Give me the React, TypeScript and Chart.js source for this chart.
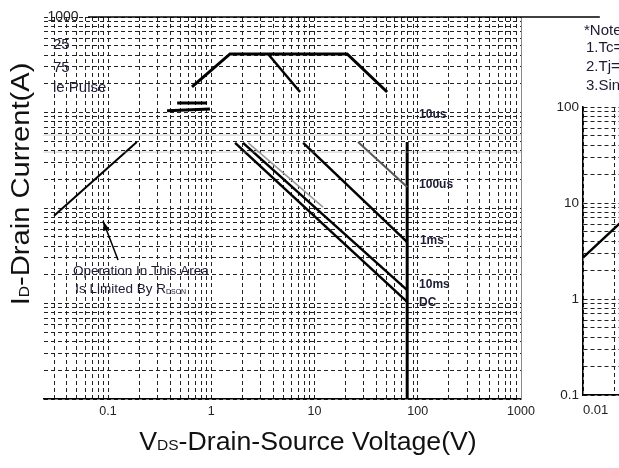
import React, { useEffect, useRef } from 'react';
import { Chart, registerables } from 'chart.js';
Chart.register(...registerables);

const FONT = "'Liberation Sans', Arial, Helvetica, sans-serif";
const INK = '#1b1b33';

// ---------- main chart axes ----------
const xRange = [0.0237, 1000];
const yRange = [0.1, 1000];
const xTickLabels = ['0.1', '1', '10', '100', '1000'];
const yTickLabels = ['1000'];

// ---------- main chart series (VDS in V, ID in A) ----------
const rdsVds = [0.03, 0.19];
const rdsId = [8.3, 49];
const dcVds = [1.7, 79];
const dcId = [48, 1.04];
const ms10Vds = [2.03, 79];
const ms10Id = [48, 1.38];
const ms1Vds = [7.76, 79];
const ms1Id = [48, 4.4];
const us100Vds = [26.4, 79];
const us100Id = [49, 16.6];
const greyVds = [2.28, 12.1];
const greyId = [48, 10.2];
const vmaxVds = [79, 79];
const vmaxId = [49, 0.1];
const ghostVds = [0.65, 1.52, 20.7, 50.5];
const ghostId = [185, 410, 410, 164];
const ghost2Vds = [3.55, 7.24];
const ghost2Id = [410, 164];
const barAVds = [0.467, 0.91];
const barAId = [126, 126];
const barBVds = [0.373, 0.97];
const barBId = [104, 109];
const bandVds = [0.0237, 1000];
const bandHiId = [58, 58];
const bandLoId = [38.5, 38.5];
const frameVds = [0.064, 5800];
const frameId = [1000, 1000];

// ---------- main chart annotations ----------
const lineLabels = ['10us', '100us', '1ms', '10ms', 'DC'];
const lineLabelVds = [103, 103, 105, 103, 103];
const lineLabelId = [94, 17.4, 4.6, 1.56, 1.01];
const opLine1 = 'Operation In This Area';
const opLine2 = 'Is Limited By R';
const opSub = 'DSON';
const opVds = [0.0458, 0.048];
const opId = [2.19, 1.42];
const arrowVds = [0.125, 0.0895];
const arrowId = [2.85, 7.3];
const noteRight = ['*Note', '1.Tc=', '2.Tj=', '3.Sin'];
const noteLeft = ['25', '75', 'le Pulse'];

// ---------- mini (shifted copy) chart ----------
const miniXRange = [0.01, 1000];
const miniYRange = [0.1, 100];
const miniXTickLabels = ['0.01'];
const miniYTickLabels = ['0.1', '1', '10', '100'];
const miniRdsVds = [0.01, 0.1];
const miniRdsId = [2.7, 27];

function logTicks(min: number, max: number) {
  const out: any[] = [];
  for (let e = Math.floor(Math.log10(min)); e <= Math.ceil(Math.log10(max)); e++) {
    for (let m = 1; m <= 9; m++) {
      const v = +(m * Math.pow(10, e)).toPrecision(6);
      if (v >= min * 0.9999 && v <= max * 1.0001) out.push({ value: v });
    }
  }
  return out;
}

const labelFor = (labels: string[]) => (v: any) => {
  const n = Number(v);
  const m = labels.find((l) => Math.abs(Math.log10(Number(l)) - Math.log10(n)) < 1e-6);
  return m ?? '';
};

const seg = (xs: number[], ys: number[], color: string, width: number, extra: any = {}) => ({
  data: xs.map((x, i) => ({ x, y: ys[i] })),
  borderColor: color,
  backgroundColor: color,
  borderWidth: width,
  pointRadius: 0,
  fill: false,
  tension: 0,
  ...extra,
});

function drawParts(ctx: any, parts: any[], tx: number, ty: number, rotate: boolean, stretch: number) {
  ctx.save();
  ctx.translate(tx, ty);
  if (rotate) ctx.rotate(-Math.PI / 2);
  ctx.scale(stretch, 1);
  ctx.textBaseline = 'alphabetic';
  ctx.textAlign = 'left';
  let total = 0;
  for (const p of parts) {
    ctx.font = `${p.size}px ${FONT}`;
    total += ctx.measureText(p.t).width;
  }
  let x = -total / 2;
  for (const p of parts) {
    ctx.font = `${p.size}px ${FONT}`;
    ctx.fillText(p.t, x, 0);
    x += ctx.measureText(p.t).width;
  }
  ctx.restore();
}

const annotPlugin = {
  id: 'annot',
  afterDraw(chart: any) {
    const { ctx } = chart;
    const xs = chart.scales.x;
    const ys = chart.scales.y;
    const px = (v: number) => xs.getPixelForValue(v);
    const py = (v: number) => ys.getPixelForValue(v);
    ctx.save();
    ctx.fillStyle = INK;
    ctx.textAlign = 'left';
    ctx.textBaseline = 'middle';
    ctx.font = `bold 12px ${FONT}`;
    lineLabels.forEach((t, i) => ctx.fillText(t, px(lineLabelVds[i]), py(lineLabelId[i])));

    ctx.font = `13.5px ${FONT}`;
    ctx.fillText(opLine1, px(opVds[0]), py(opId[0]));
    let x = px(opVds[1]);
    const y = py(opId[1]);
    ctx.fillText(opLine2, x, y);
    x += ctx.measureText(opLine2).width;
    ctx.textBaseline = 'alphabetic';
    ctx.font = `7px ${FONT}`;
    ctx.fillText(opSub, x, y + 5);

    // arrow
    const ax0 = px(arrowVds[0]), ay0 = py(arrowId[0]);
    const ax1 = px(arrowVds[1]), ay1 = py(arrowId[1]);
    ctx.strokeStyle = '#000';
    ctx.lineWidth = 1.5;
    ctx.beginPath();
    ctx.moveTo(ax0, ay0);
    ctx.lineTo(ax1, ay1);
    ctx.stroke();
    const ang = Math.atan2(ay1 - ay0, ax1 - ax0);
    ctx.fillStyle = '#000';
    ctx.beginPath();
    ctx.moveTo(ax1, ay1);
    ctx.lineTo(ax1 - 10 * Math.cos(ang - 0.3), ay1 - 10 * Math.sin(ang - 0.3));
    ctx.lineTo(ax1 - 10 * Math.cos(ang + 0.3), ay1 - 10 * Math.sin(ang + 0.3));
    ctx.closePath();
    ctx.fill();

    // notes (fragments)
    ctx.fillStyle = INK;
    ctx.font = `15px ${FONT}`;
    ctx.textBaseline = 'middle';
    const rightY = [31, 48, 67, 86];
    noteRight.forEach((t, i) => ctx.fillText(t, i === 0 ? 584 : 586, rightY[i]));
    const leftY = [45, 68, 88];
    noteLeft.forEach((t, i) => ctx.fillText(t, 53, leftY[i]));

    // axis titles
    ctx.fillStyle = '#111';
    drawParts(ctx, [{ t: 'I', size: 26 }, { t: 'D', size: 14 }, { t: '-Drain Current(A)', size: 26 }], 29, 184, true, 1.12);
    drawParts(ctx, [{ t: 'V', size: 26.7 }, { t: 'DS', size: 15.5 }, { t: '-Drain-Source Voltage(V)', size: 26.7 }], 308, 450, false, 1);
    ctx.restore();
  },
};

function mainConfig(): any {
  return {
    type: 'line',
    data: {
      datasets: [
        seg(bandVds, bandHiId, '#999', 1, { borderDash: [1, 1] }),
        seg(bandVds, bandLoId, '#999', 1, { borderDash: [1, 1] }),
        seg(frameVds, frameId, '#000', 1.5, { clip: false }),
        seg(rdsVds, rdsId, '#000', 2),
        seg(ghostVds, ghostId, '#000', 3),
        seg(ghost2Vds, ghost2Id, '#000', 2.5),
        seg(barAVds, barAId, '#000', 3),
        seg(barBVds, barBId, '#000', 3),
        seg(greyVds, greyId, '#999', 1.5),
        seg(dcVds, dcId, '#000', 2.5),
        seg(ms10Vds, ms10Id, '#000', 2.5),
        seg(ms1Vds, ms1Id, '#000', 2.5),
        seg(us100Vds, us100Id, '#555', 2),
        seg(vmaxVds, vmaxId, '#000', 3),
      ],
    },
    options: {
      animation: false,
      responsive: false,
      devicePixelRatio: 1,
      layout: { padding: { left: 43.5, right: 98, top: 17, bottom: 0 } },
      plugins: { legend: { display: false }, tooltip: { enabled: false } },
      scales: {
        x: {
          type: 'logarithmic',
          min: xRange[0],
          max: xRange[1],
          afterBuildTicks: (s: any) => { s.ticks = logTicks(xRange[0], xRange[1]); },
          afterFit: (s: any) => { s.height = 69; },
          grid: { color: '#222', lineWidth: 1, drawTicks: false },
          border: { display: true, color: '#000', width: 1.5, dash: [4, 3] },
          ticks: { autoSkip: false, maxRotation: 0, padding: 5, callback: labelFor(xTickLabels), font: { family: FONT, size: 12.5 }, color: '#222' },
        },
        y: {
          type: 'logarithmic',
          position: 'left',
          min: yRange[0],
          max: yRange[1],
          afterBuildTicks: (s: any) => { s.ticks = logTicks(yRange[0], yRange[1]); },
          afterFit: (s: any) => { s.width = 0; },
          grid: { color: '#222', lineWidth: 1, drawTicks: false },
          border: { display: false, dash: [4, 3] },
          ticks: { mirror: true, padding: 4, autoSkip: false, callback: labelFor(yTickLabels), font: { family: FONT, size: 14 }, color: '#222' },
        },
        y2: {
          type: 'linear',
          position: 'right',
          afterFit: (s: any) => { s.width = 0; },
          grid: { display: false, drawTicks: false },
          border: { display: true, color: '#888', width: 1 },
          ticks: { display: false },
        },
      },
    },
    plugins: [annotPlugin],
  };
}

function miniConfig(): any {
  return {
    type: 'line',
    data: {
      datasets: [seg(miniRdsVds, miniRdsId, '#000', 2.5)],
    },
    options: {
      animation: false,
      responsive: false,
      devicePixelRatio: 1,
      layout: { padding: { left: 0, right: 22, top: 107, bottom: 0 } },
      plugins: { legend: { display: false }, tooltip: { enabled: false } },
      scales: {
        x: {
          type: 'logarithmic',
          min: miniXRange[0],
          max: miniXRange[1],
          afterBuildTicks: (s: any) => { s.ticks = logTicks(miniXRange[0], miniXRange[1]); },
          afterFit: (s: any) => { s.height = 73; },
          grid: { color: '#222', lineWidth: 1, drawTicks: false },
          border: { display: true, color: '#000', width: 1.5, dash: [4, 3] },
          ticks: { autoSkip: false, maxRotation: 0, align: 'start', padding: 8, callback: labelFor(miniXTickLabels), font: { family: FONT, size: 13 }, color: '#222' },
        },
        y: {
          type: 'logarithmic',
          min: miniYRange[0],
          max: miniYRange[1],
          afterBuildTicks: (s: any) => { s.ticks = logTicks(miniYRange[0], miniYRange[1]); },
          afterFit: (s: any) => { s.width = 83; },
          grid: { color: '#222', lineWidth: 1, drawTicks: false },
          border: { display: true, color: '#000', width: 1.5, dash: [4, 3] },
          ticks: { autoSkip: false, padding: 4, callback: labelFor(miniYTickLabels), font: { family: FONT, size: 13.5 }, color: '#222' },
        },
      },
    },
  };
}

export default function App() {
  const mainRef = useRef<HTMLCanvasElement>(null);
  const miniRef = useRef<HTMLCanvasElement>(null);
  useEffect(() => {
    const main = new Chart(mainRef.current as any, mainConfig());
    const mini = new Chart(miniRef.current as any, miniConfig());
    return () => {
      main.destroy();
      mini.destroy();
    };
  }, []);
  return (
    <div style={{ position: 'fixed', left: 0, top: 0, width: 619, height: 468, overflow: 'hidden', background: '#fff' }}>
      <canvas ref={mainRef} width={619} height={468} style={{ position: 'absolute', left: 0, top: 0, width: 619, height: 468 }} />
      <canvas ref={miniRef} width={620} height={468} style={{ position: 'absolute', left: 500, top: 0, width: 620, height: 468 }} />
    </div>
  );
}
